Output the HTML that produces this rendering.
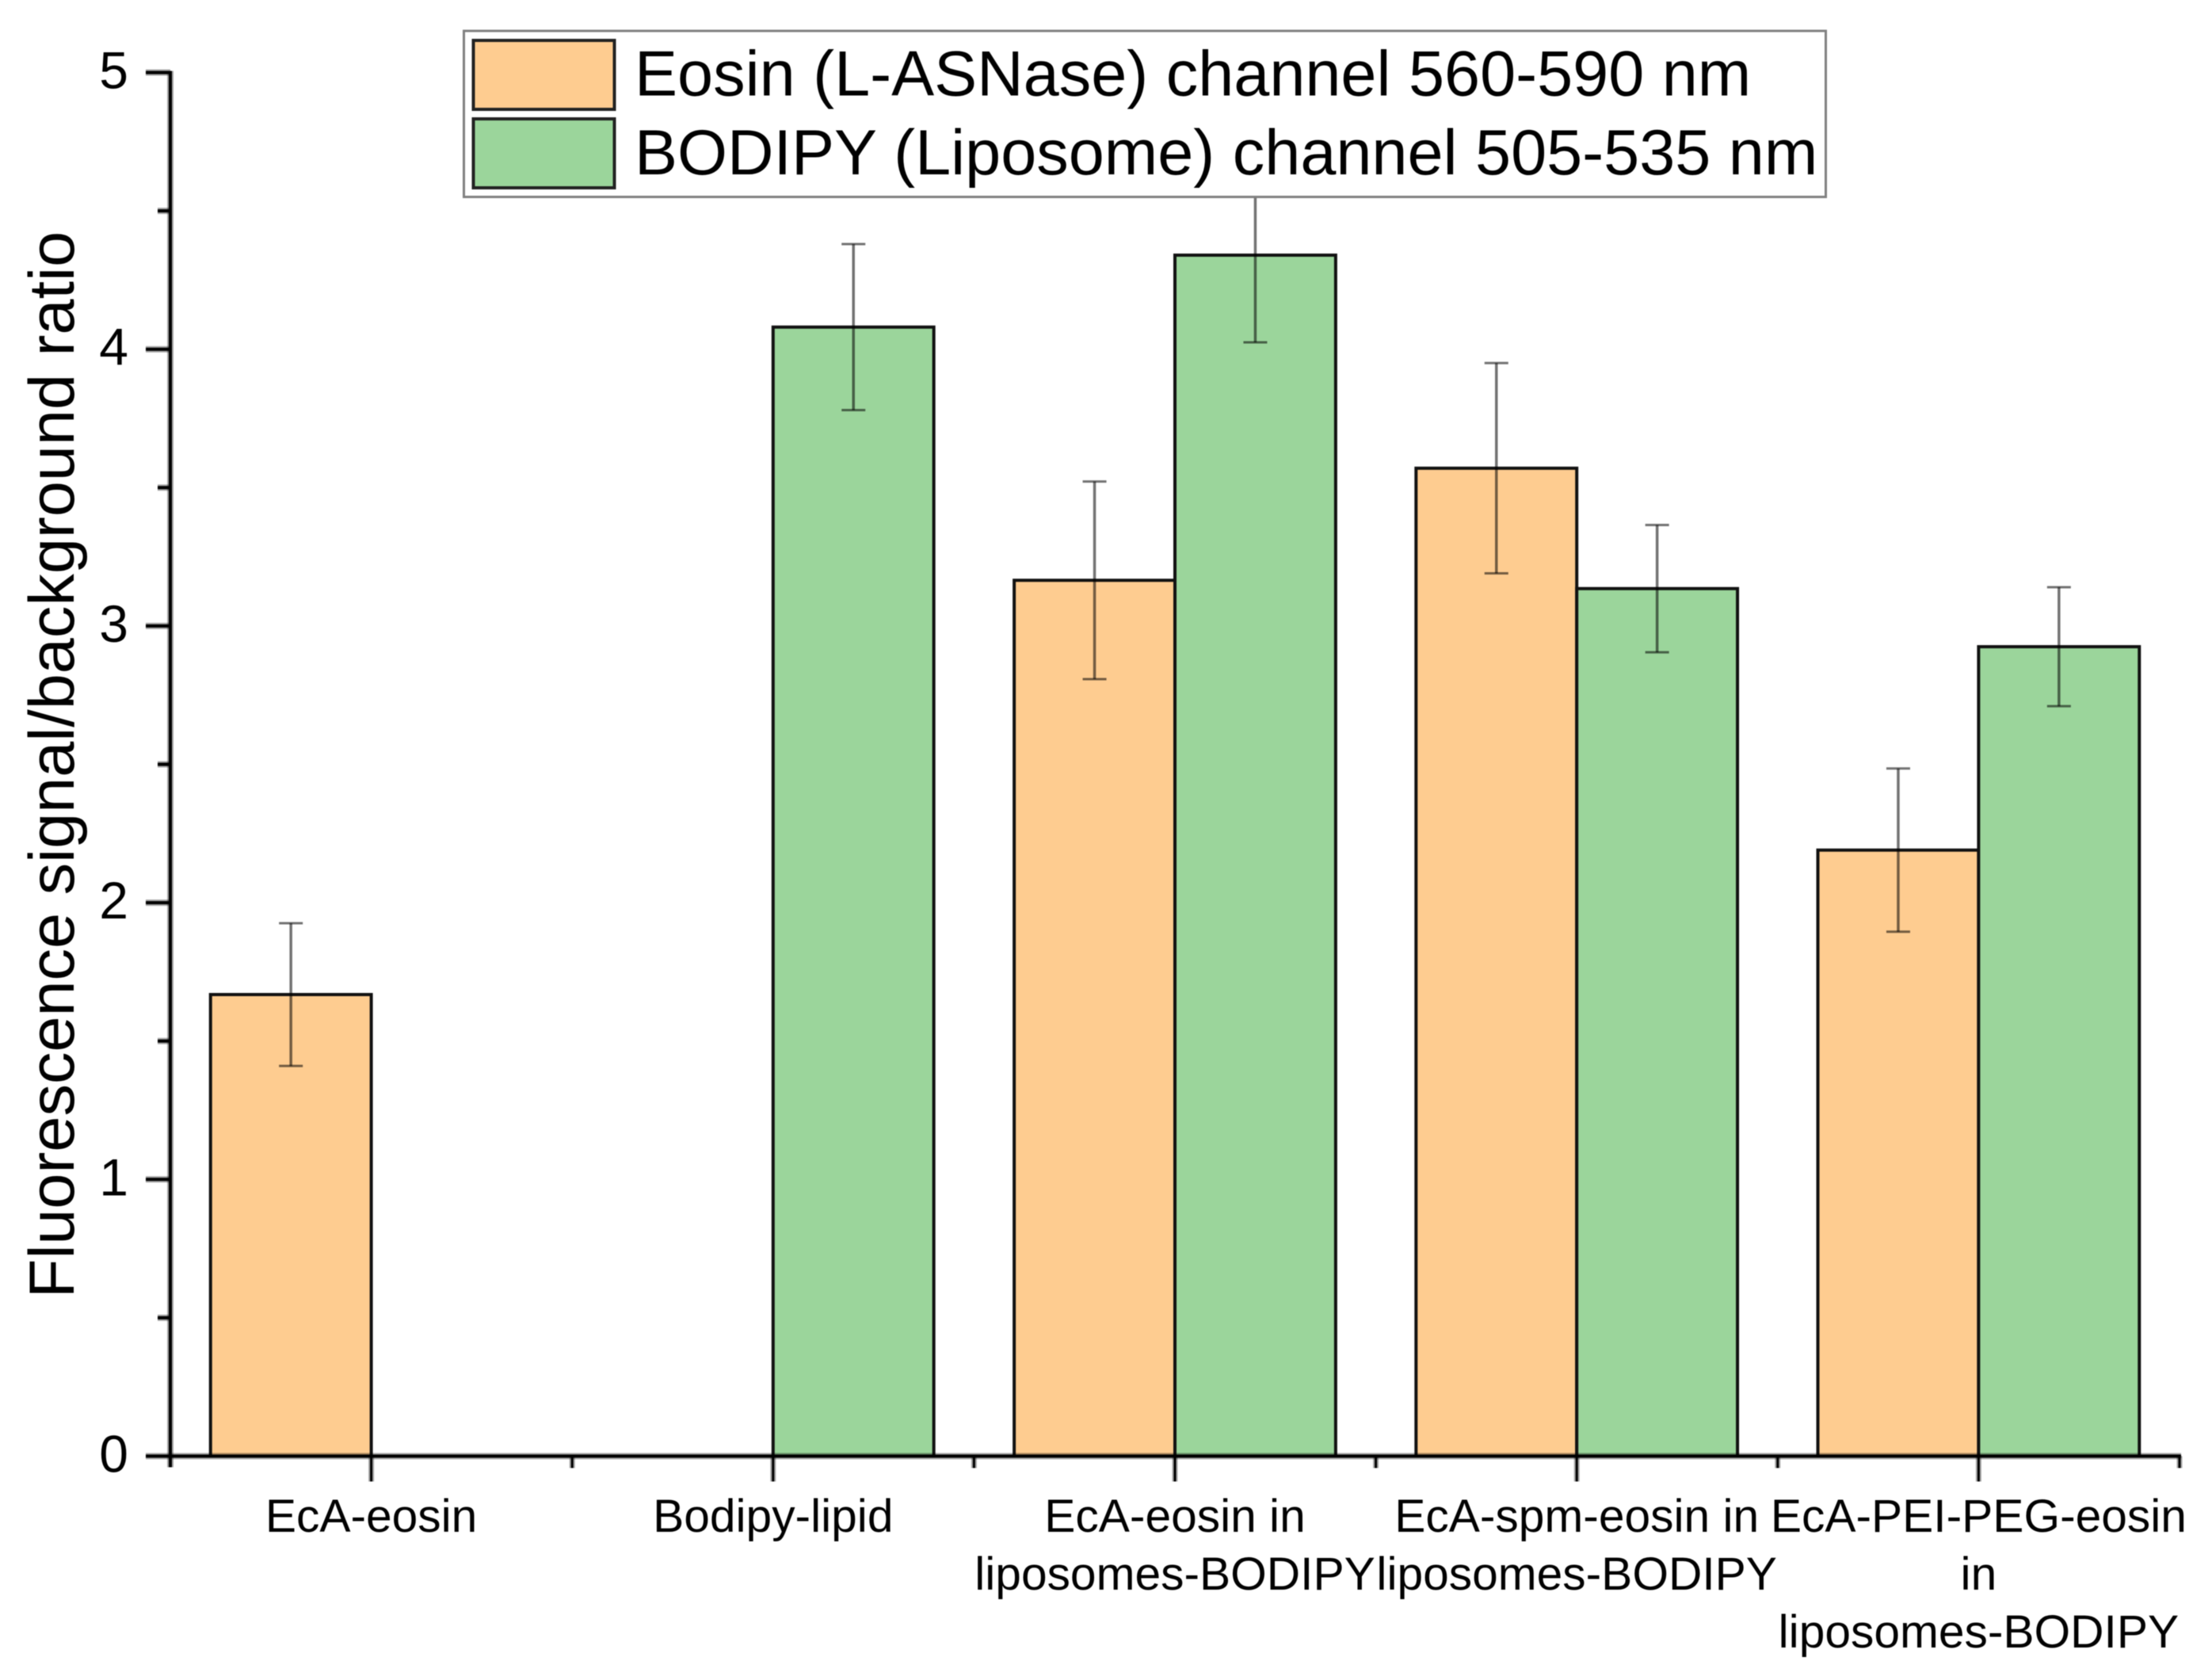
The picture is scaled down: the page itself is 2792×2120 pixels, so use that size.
<!DOCTYPE html>
<html lang="en">
<head>
<meta charset="utf-8">
<title>Fluorescence signal/background ratio</title>
<style>
html,body{margin:0;padding:0;background:#fff;}
#chart{display:block;width:2792px;height:2120px;font-family:"Liberation Sans",Arial,sans-serif;filter:blur(0.6px);}
</style>
</head>
<body>
<svg id="chart" xmlns="http://www.w3.org/2000/svg" width="2792" height="2120" viewBox="0 0 2792 2120">
  <rect x="0" y="0" width="2792" height="2120" fill="#fff"/>
  <g id="bars"></g>
  <g id="errors"></g>
  <g id="axes"></g>
  <g id="ticklabels"></g>
  <text transform="translate(93,965) rotate(-90)" text-anchor="middle" font-size="81" fill="#000">Fluorescence signal/background ratio</text>
  <g>
    <rect x="585.5" y="39" width="1719" height="209.5" fill="#fff" stroke="#808080" stroke-width="3"/>
    <rect x="597.5" y="51" width="178" height="87" fill="#FECC90" stroke="#222" stroke-width="4"/>
    <text x="801" y="120.5" font-size="81" fill="#000">Eosin (L-ASNase) channel 560-590 nm</text>
    <rect x="597.5" y="150" width="178" height="87" fill="#9BD59B" stroke="#222" stroke-width="4"/>
    <text x="801" y="220" font-size="81" fill="#000">BODIPY (Liposome) channel 505-535 nm</text>
  </g>
</svg>
<script>
const categories = [
  ["EcA-eosin"],
  ["Bodipy-lipid"],
  ["EcA-eosin in", "liposomes-BODIPY"],
  ["EcA-spm-eosin in", "liposomes-BODIPY"],
  ["EcA-PEI-PEG-eosin", "in", "liposomes-BODIPY"]
];
const eosinValues = [1.668, null, 3.165, 3.57, 2.19];
const eosinErrors = [0.258, null, 0.357, 0.38, 0.295];
const bodipyValues = [null, 4.08, 4.34, 3.135, 2.925];
const bodipyErrors = [null, 0.30, 0.315, 0.23, 0.215];
const yTickLabels = [0, 1, 2, 3, 4, 5];
const yMinorTicks = [0.5, 1.5, 2.5, 3.5, 4.5];

const NS = "http://www.w3.org/2000/svg";
const X_LEFT = 215, X_RIGHT = 2751, Y_ZERO = 1837.5, Y_TOP = 91.5;
const xDomain = [0.5, categories.length + 0.5];
const yDomain = [0, 5];
function xScale(v) { return X_LEFT + (v - xDomain[0]) / (xDomain[1] - xDomain[0]) * (X_RIGHT - X_LEFT); }
function yScale(v) { return Y_ZERO - (v - yDomain[0]) / (yDomain[1] - yDomain[0]) * (Y_ZERO - Y_TOP); }
function make(tag, parent, attrs) {
  const el = document.createElementNS(NS, tag);
  for (const k in attrs) el.setAttribute(k, attrs[k]);
  parent.appendChild(el);
  return el;
}
const barsG = document.getElementById("bars");
const errG = document.getElementById("errors");
const axesG = document.getElementById("axes");
const labelsG = document.getElementById("ticklabels");
const BAR_UNITS = 0.4;

function drawSeries(values, errors, offset, color, seriesName) {
  values.forEach(function (v, i) {
    if (v === null) return;
    const x0 = xScale(i + 1 + offset);
    const x1 = xScale(i + 1 + offset + BAR_UNITS);
    const yv = yScale(v);
    const bar = make("rect", barsG, { x: x0, y: yv, width: x1 - x0, height: Y_ZERO - yv, fill: color, stroke: "#111", "stroke-width": 4 });
    
    
    const cx = (x0 + x1) / 2;
    const e = errors[i];
    const g = make("g", errG, { stroke: "#000", "stroke-opacity": 0.55, fill: "none" });
    
    
    make("line", g, { x1: cx, x2: cx, y1: yScale(v + e), y2: yScale(v - e), "stroke-width": 3.5 });
    make("line", g, { x1: cx - 15, x2: cx + 15, y1: yScale(v + e), y2: yScale(v + e), "stroke-width": 3 });
    make("line", g, { x1: cx - 15, x2: cx + 15, y1: yScale(v - e), y2: yScale(v - e), "stroke-width": 3 });
  });
}
drawSeries(eosinValues, eosinErrors, -BAR_UNITS, "#FECC90", "eosin");
drawSeries(bodipyValues, bodipyErrors, 0, "#9BD59B", "bodipy");

function axisLine(x1, y1, x2, y2, w, name) {
  const halo = make("line", axesG, { x1: x1, y1: y1, x2: x2, y2: y2, stroke: "#000", "stroke-opacity": 0.35, "stroke-width": w + 4 });
  
  
  const core = make("line", axesG, { x1: x1, y1: y1, x2: x2, y2: y2, stroke: "#000", "stroke-width": w });
  
  
}
axisLine(X_LEFT, Y_TOP - 2, X_LEFT, Y_ZERO + 14, 4, "y-axis-line");
axisLine(184, Y_ZERO, X_RIGHT + 2, Y_ZERO, 4, "x-axis-line");

yTickLabels.forEach(function (t) {
  if (t !== 0) axisLine(184, yScale(t), X_LEFT, yScale(t), 4, "y-major-tick-" + t);
  const label = make("text", labelsG, { x: 162, y: yScale(t) + 20, "text-anchor": "end", "font-size": 66, fill: "#000" });
  label.textContent = t;
  
  
});
yMinorTicks.forEach(function (t) {
  axisLine(199, yScale(t), X_LEFT, yScale(t), 4, "y-minor-tick-" + t);
});

categories.forEach(function (lines, i) {
  const cx = xScale(i + 1);
  axisLine(cx, Y_ZERO, cx, Y_ZERO + 32, 3, "x-major-tick-" + (i + 1));
  const half = xScale(i + 1.5);
  axisLine(half, Y_ZERO, half, Y_ZERO + 15, 3, "x-minor-tick-" + (i + 1));
  lines.forEach(function (line, j) {
    const label = make("text", labelsG, { x: cx, y: 1933 + j * 73, "text-anchor": "middle", "font-size": 58.7, fill: "#000" });
    label.textContent = line;
    
    
  });
});
</script>
</body>
</html>
